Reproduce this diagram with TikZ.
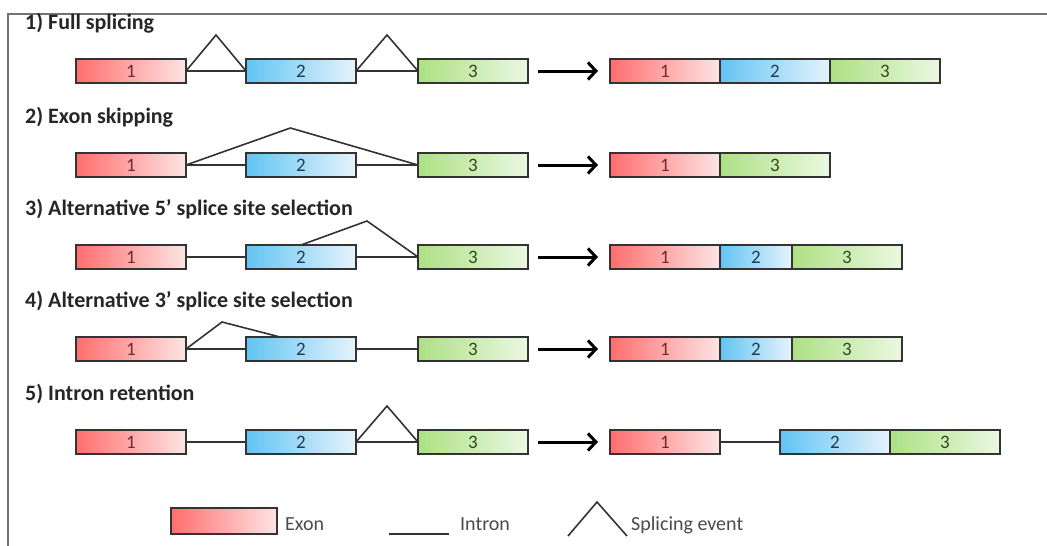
\documentclass[tikz,border=0pt]{standalone}
\usepackage{fontspec}
\setmainfont{Carlito}
\usetikzlibrary{arrows.meta,positioning,calc}

\definecolor{redL}{HTML}{FF6E6E}
\definecolor{redR}{HTML}{FDE4E4}
\definecolor{redT}{HTML}{6E2A2A}
\definecolor{blueL}{HTML}{62C4F4}
\definecolor{blueR}{HTML}{E6F3FC}
\definecolor{blueT}{HTML}{1F3B55}
\definecolor{greenL}{HTML}{ADE083}
\definecolor{greenR}{HTML}{EBF8E2}
\definecolor{greenT}{HTML}{2E4A1E}
\definecolor{edge}{HTML}{333333}
\definecolor{legendtext}{HTML}{4A4A4A}

\begin{document}
\begin{tikzpicture}[x=1pt,y=-1pt]
\tikzstyle{exon} = [draw=edge,line width=1.6pt,minimum height=24pt,minimum width=110pt,inner sep=0pt,outer sep=0pt,anchor=west,font=\fontsize{19}{19}\selectfont]
\tikzstyle{exred} = [exon,left color=redL,right color=redR,text=redT]
\tikzstyle{exblue} = [exon,left color=blueL,right color=blueR,text=blueT]
\tikzstyle{exgreen} = [exon,left color=greenL,right color=greenR,text=greenT]
\tikzstyle{intron} = [line width=1.6pt,color=edge]
\tikzstyle{splice} = [line width=1.6pt,color=edge,line join=miter]
\tikzstyle{bigarrow} = [line width=3pt,-{Straight Barb[length=8pt,width=17pt]},shorten <=10pt,shorten >=12pt]
\tikzstyle{heading} = [anchor=base west,inner sep=0pt,font=\fontsize{22}{22}\selectfont\bfseries,text=black!85]
\tikzstyle{legendlabel} = [anchor=base west,inner sep=0pt,font=\fontsize{20}{20}\selectfont,text=legendtext]

\useasboundingbox (0,0) rectangle (1047,546);

%cadre
\draw[line width=1.2pt,color=black!55] (8,546)--(8,14)--(1047,14);

%1) full splicing
\node[heading] (t1) at (25,29) {1) Full splicing};
\node[exred] (a1) at (76,71) {1};
\node[exblue] (a2) at (246,71) {2};
\node[exgreen] (a3) at (418,71) {3};
\draw[intron] (a1.east)--(a2.west);
\draw[intron] (a2.east)--(a3.west);
\draw[splice] (a1.east)--($(a1.east)!.5!(a2.west)+(0,-36)$)--(a2.west);
\draw[splice] (a2.east)--($(a2.east)!.5!(a3.west)+(0,-36)$)--(a3.west);
\node[exred] (ra1) at (610,71) {1};
\node[exblue,right=0pt of ra1] (ra2) {2};
\node[exgreen,right=0pt of ra2] (ra3) {3};
\draw[bigarrow] (a3.east)--(ra1.west);

%2) exon skipping
\node[heading] (t2) at (25,123) {2) Exon skipping};
\node[exred] (b1) at (76,165) {1};
\node[exblue] (b2) at (246,165) {2};
\node[exgreen] (b3) at (418,165) {3};
\draw[intron] (b1.east)--(b2.west);
\draw[intron] (b2.east)--(b3.west);
\draw[splice] (b1.east)--($(b1.east)!.45!(b3.west)+(0,-37)$)--(b3.west);
\node[exred] (rb1) at (610,165) {1};
\node[exgreen,right=0pt of rb1] (rb2) {3};
\draw[bigarrow] (b3.east)--(rb1.west);

%3) alternative 5' splice site
\node[heading] (t3) at (25,215) {3) Alternative 5’ splice site selection};
\node[exred] (c1) at (76,257) {1};
\node[exblue] (c2) at (246,257) {2};
\node[exgreen] (c3) at (418,257) {3};
\draw[intron] (c1.east)--(c2.west);
\draw[intron] (c2.east)--(c3.west);
\coordinate (p3) at (367,221);
\draw[splice] (c2.north)--(p3)--(c3.west);
\node[exred] (rc1) at (610,257) {1};
\node[exblue,minimum width=72pt,right=0pt of rc1] (rc2) {2};
\node[exgreen,right=0pt of rc2] (rc3) {3};
\draw[bigarrow] (c3.east)--(rc1.west);

%4) alternative 3' splice site
\node[heading] (t4) at (25,307) {4) Alternative 3’ splice site selection};
\node[exred] (d1) at (76,349) {1};
\node[exblue] (d2) at (246,349) {2};
\node[exgreen] (d3) at (418,349) {3};
\draw[intron] (d1.east)--(d2.west);
\draw[intron] (d2.east)--(d3.west);
\coordinate (p4) at (222,322);
\draw[splice] (d1.east)--(p4)--([xshift=34pt]d2.north west);
\node[exred] (rd1) at (610,349) {1};
\node[exblue,minimum width=72pt,right=0pt of rd1] (rd2) {2};
\node[exgreen,right=0pt of rd2] (rd3) {3};
\draw[bigarrow] (d3.east)--(rd1.west);

%5) intron retention
\node[heading] (t5) at (25,400) {5) Intron retention};
\node[exred] (e1) at (76,442) {1};
\node[exblue] (e2) at (246,442) {2};
\node[exgreen] (e3) at (418,442) {3};
\draw[intron] (e1.east)--(e2.west);
\draw[intron] (e2.east)--(e3.west);
\draw[splice] (e2.east)--($(e2.east)!.5!(e3.west)+(0,-36)$)--(e3.west);
\node[exred] (re1) at (610,442) {1};
\node[exblue,right=60pt of re1] (re2) {2};
\node[exgreen,right=0pt of re2] (re3) {3};
\draw[intron] (re1.east)--(re2.west);
\draw[bigarrow] (e3.east)--(re1.west);

%legende
\node[exred,minimum width=106pt,minimum height=26pt] (lexon) at (171,521) {};
\node[legendlabel] (lexontext) at (285,530) {Exon};
\coordinate (li1) at (389,534);
\coordinate (li2) at (449,534);
\draw[intron] (li1)--(li2);
\node[legendlabel] (lintrontext) at (460,530) {Intron};
\coordinate (ls1) at (568,536);
\coordinate (ls2) at (597,502);
\coordinate (ls3) at (627,536);
\draw[splice] (ls1)--(ls2)--(ls3);
\node[legendlabel] (lsplicetext) at (631,530) {Splicing event};
\end{tikzpicture}
\end{document}
